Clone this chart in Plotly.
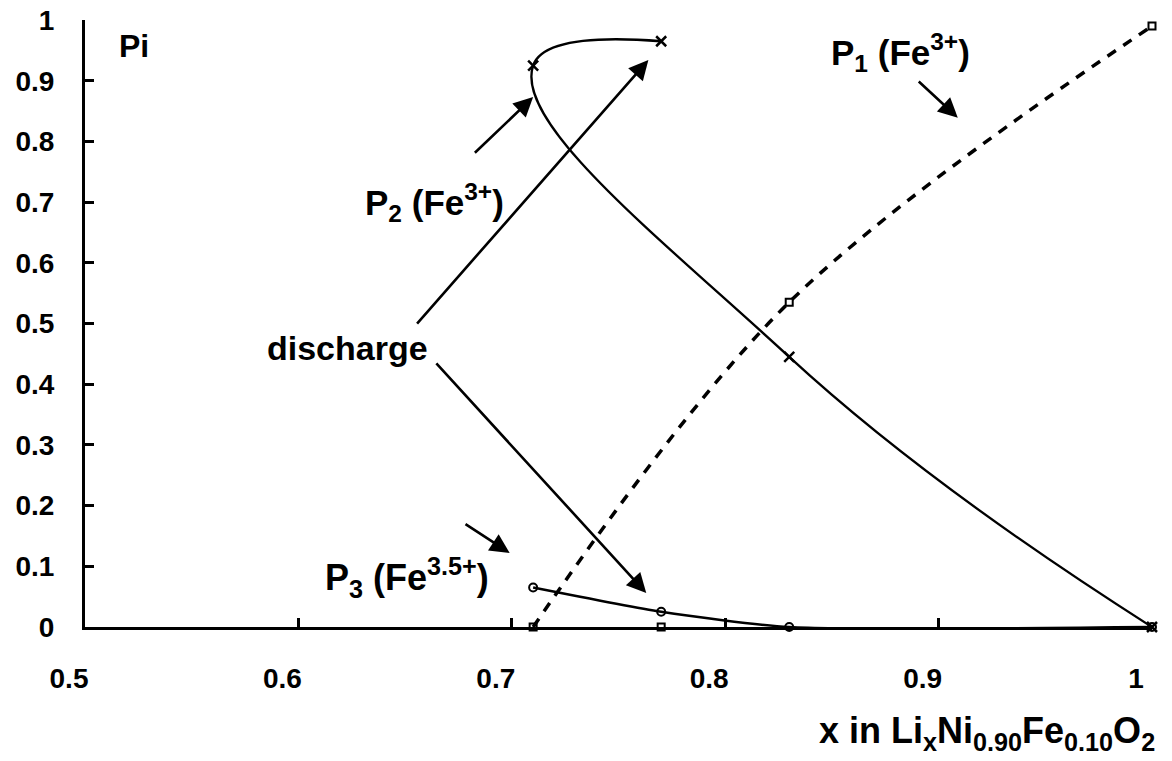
import plotly.graph_objects as go

# data
x_pts = [0.71, 0.77, 0.83, 1.0]
p1_vals = [0.0, 0.0, 0.535, 0.99]          # squares
p1_curve_x = [0.71, 0.83, 1.0]             # dashed fit through P1
p1_curve_y = [0.0, 0.535, 0.99]
p2_path_x = [0.77, 0.71, 0.83, 1.0]        # crosses, drawn in discharge order
p2_path_y = [0.965, 0.925, 0.445, 0.0]
p3_vals = [0.065, 0.025, 0.0, 0.0]         # circles
x_ticks = [0.5, 0.6, 0.7, 0.8, 0.9, 1.0]
y_ticks = [0, 0.1, 0.2, 0.3, 0.4, 0.5, 0.6, 0.7, 0.8, 0.9, 1.0]

FONT = "Liberation Sans, Arial, Helvetica, sans-serif"
BLACK = "black"

fig = go.Figure()

# P1 dashed curve
fig.add_trace(go.Scatter(x=p1_curve_x, y=p1_curve_y, mode="lines",
                         line=dict(color=BLACK, width=3.5, dash="10px,9px", shape="spline"),
                         cliponaxis=False, showlegend=False))
fig.add_trace(go.Scatter(x=x_pts, y=p1_vals, mode="markers",
                         marker=dict(symbol="square-open", size=7, color=BLACK, line=dict(width=2)),
                         cliponaxis=False, showlegend=False))
# P2 solid curve with crosses
fig.add_trace(go.Scatter(x=p2_path_x, y=p2_path_y, mode="lines+markers",
                         line=dict(color=BLACK, width=2.3, shape="spline", smoothing=1.3),
                         marker=dict(symbol="x-thin-open", size=10, color=BLACK, line=dict(width=2.5)),
                         cliponaxis=False, showlegend=False))
# P3 solid line with circles
fig.add_trace(go.Scatter(x=x_pts, y=p3_vals, mode="lines+markers",
                         line=dict(color=BLACK, width=2.5, shape="spline", smoothing=0.6),
                         marker=dict(symbol="circle-open", size=8, color=BLACK, line=dict(width=2)),
                         cliponaxis=False, showlegend=False))


def label(txt, x, y, size=35):
    fig.add_annotation(x=x, y=y, xref="x", yref="y", text=txt, showarrow=False,
                       font=dict(family=FONT, size=size, color=BLACK, weight="bold"))


def arrow(x0, y0, x1, y1):
    fig.add_annotation(x=x1, y=y1, ax=x0, ay=y0, xref="x", yref="y", axref="x", ayref="y",
                       text="", showarrow=True, arrowhead=2, arrowsize=1.5, arrowwidth=2.6,
                       arrowcolor=BLACK, standoff=0, startstandoff=0)


label("Pi", 0.523, 0.957, 32)
label("P<sub>1</sub> (Fe<sup>3+</sup>)", 0.882, 0.947)
label("P<sub>2</sub> (Fe<sup>3+</sup>)", 0.664, 0.700)
label("discharge", 0.623, 0.460, 34)
label("P<sub>3</sub> (Fe<sup>3.5+</sup>)", 0.651, 0.081, 36)

arrow(0.890, 0.901, 0.909, 0.839)
arrow(0.682, 0.779, 0.710, 0.873)
arrow(0.655, 0.4975, 0.764, 0.934)
arrow(0.664, 0.4366, 0.763, 0.056)
arrow(0.6776, 0.171, 0.699, 0.122)

fig.add_annotation(x=1.005, y=-0.175, xref="paper", yref="paper", xanchor="right", yanchor="middle",
                   text="x in Li<sub>x</sub>Ni<sub>0.90</sub>Fe<sub>0.10</sub>O<sub>2</sub>",
                   showarrow=False, font=dict(family=FONT, size=36, color=BLACK, weight="bold"))

tick_font = dict(family=FONT, size=28, color=BLACK, weight="bold")
fig.update_xaxes(range=[0.5, 1.0], tickvals=x_ticks, ticktext=[f"{v:g}" for v in x_ticks],
                 showgrid=False, zeroline=False, showline=True, linecolor=BLACK, linewidth=3,
                 ticks="inside", ticklen=9, tickwidth=2.5, tickcolor=BLACK, automargin=False,
                 tickfont=tick_font, ticklabelstandoff=24, ticklabelshift=-16,
                 ticklabeloverflow="allow")
fig.update_yaxes(range=[0, 1.0], tickvals=y_ticks, ticktext=[f"{v:g}" for v in y_ticks],
                 showgrid=False, zeroline=False, showline=True, linecolor=BLACK, linewidth=3,
                 ticks="inside", ticklen=9, tickwidth=2.5, tickcolor=BLACK, automargin=False,
                 tickfont=tick_font, ticklabelstandoff=22, ticklabeloverflow="allow")

# the page adds an 8px body margin, so the figure is sized to fit the window
fig.update_layout(width=1164, height=753, margin=dict(l=77, r=20, t=12, b=134),
                  plot_bgcolor="white", paper_bgcolor="white", showlegend=False)

fig.write_html("out.html")
